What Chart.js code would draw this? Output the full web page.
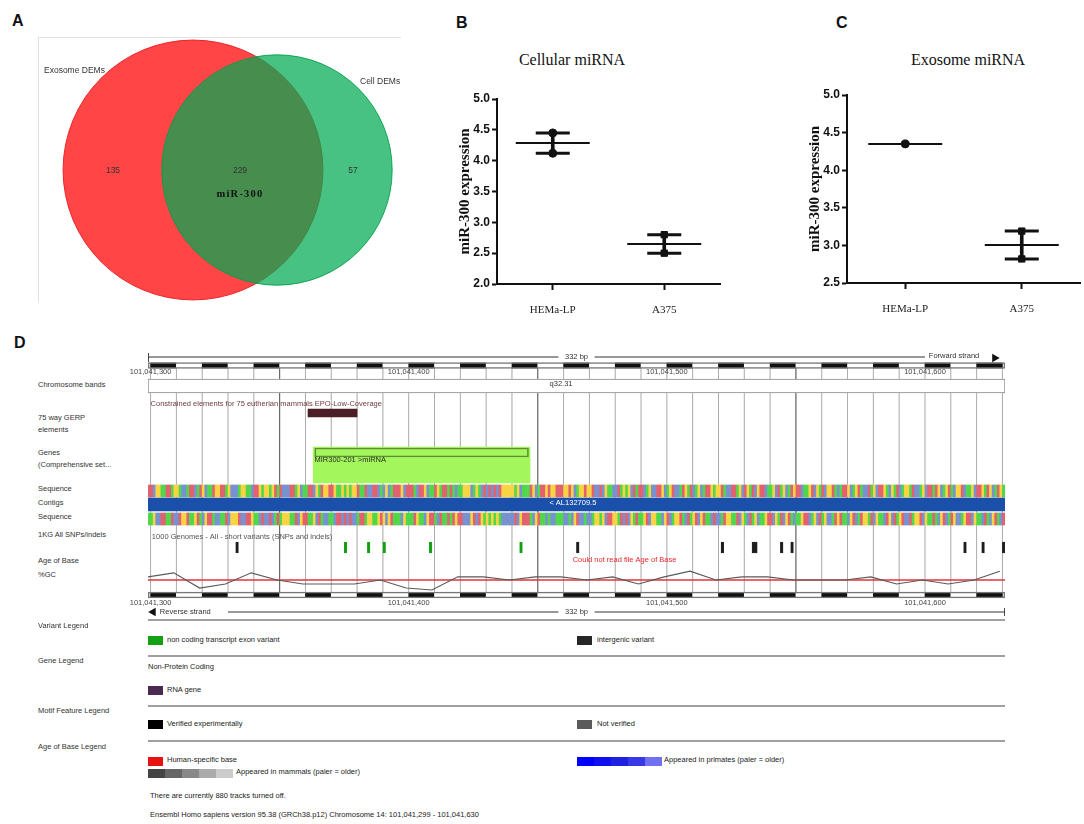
<!DOCTYPE html>
<html>
<head>
<meta charset="utf-8">
<script src="https://cdn.jsdelivr.net/npm/chart.js@4.4.1/dist/chart.umd.min.js"></script>
<style>
body { margin: 0; background: #fff; }
#wrap { position: relative; width: 1084px; height: 824px; overflow: hidden; font-family: "Liberation Sans", Arial, sans-serif; color: #222; }
#wrap canvas { position: absolute; }
.t { position: absolute; white-space: nowrap; }
.c { transform: translate(-50%, -50%); }
.m { transform: translateY(-50%); }
.plab { position: absolute; font-weight: bold; font-size: 16px; color: #111; }
.title { position: absolute; font-family: "Liberation Serif", serif; font-size: 16px; color: #111; transform: translate(-50%, -50%); white-space: nowrap; }
.trk { position: absolute; left: 38px; font-size: 7.5px; color: #333; transform: translateY(-50%); white-space: nowrap; }
.lg { position: absolute; font-size: 7.5px; color: #222; white-space: nowrap; }
.hl { position: absolute; left: 148px; width: 857px; height: 2px; background: #a0a0a0; }
.box { position: absolute; width: 15px; height: 9px; }
</style>
</head>
<body>
<div id="wrap">
  <div class="plab" style="left:12px;top:12px">A</div>
  <div class="plab" style="left:456px;top:14px">B</div>
  <div class="plab" style="left:836px;top:14px">C</div>
  <div class="plab" style="left:14px;top:334px">D</div>

  <!-- panel A -->
  <div style="position:absolute;left:38px;top:37px;width:362px;height:264px;border-left:1px solid #e2e2e2;border-top:1px solid #e2e2e2"></div>
  <canvas id="venn" width="365" height="268" style="left:38px;top:37px"></canvas>
  <div id="vennText"></div>

  <!-- panels B, C -->
  <div class="title" style="left:572px;top:60px">Cellular miRNA</div>
  <div class="title" style="left:968px;top:60px">Exosome miRNA</div>
  <canvas id="cellular" width="290" height="235" style="left:440px;top:85px"></canvas>
  <canvas id="exosome" width="294" height="238" style="left:790px;top:81px"></canvas>

  <!-- panel D -->
  <div class="trk" style="top:384px">Chromosome bands</div>
  <div class="trk" style="top:417px">75 way GERP</div>
  <div class="trk" style="top:429px">elements</div>
  <div class="trk" style="top:452px">Genes</div>
  <div class="trk" style="top:464px">(Comprehensive set...</div>
  <div class="trk" style="top:488px">Sequence</div>
  <div class="trk" style="top:502px">Contigs</div>
  <div class="trk" style="top:516px">Sequence</div>
  <div class="trk" style="top:534px">1KG All SNPs/indels</div>
  <div class="trk" style="top:560px">Age of Base</div>
  <div class="trk" style="top:574px">%GC</div>
  <canvas id="browser" width="940" height="272" style="left:100px;top:350px"></canvas>

  <!-- legends -->
  <div class="hl" style="top:619px"></div>
  <div class="trk" style="top:625px">Variant Legend</div>
  <div class="box" style="left:148px;top:636px;background:#14a014"></div>
  <div class="lg" style="left:167px;top:635px">non coding transcript exon variant</div>
  <div class="box" style="left:577px;top:636px;background:#262626"></div>
  <div class="lg" style="left:597px;top:635px">intergenic variant</div>
  <div class="hl" style="top:655px"></div>
  <div class="trk" style="top:660px">Gene Legend</div>
  <div class="lg" style="left:148px;top:662px">Non-Protein Coding</div>
  <div class="box" style="left:148px;top:686px;background:#4a2a50"></div>
  <div class="lg" style="left:167px;top:685px">RNA gene</div>
  <div class="hl" style="top:705px"></div>
  <div class="trk" style="top:710px">Motif Feature Legend</div>
  <div class="box" style="left:148px;top:720px;background:#000"></div>
  <div class="lg" style="left:167px;top:719px">Verified experimentally</div>
  <div class="box" style="left:577px;top:720px;background:#5a5a5a"></div>
  <div class="lg" style="left:597px;top:719px">Not verified</div>
  <div class="hl" style="top:740px"></div>
  <div class="trk" style="top:746px">Age of Base Legend</div>
  <div class="box" style="left:148px;top:757px;background:#e81212"></div>
  <div class="lg" style="left:167px;top:755px">Human-specific base</div>
  <div id="mammals" style="position:absolute;left:148px;top:769px;display:flex"></div>
  <div class="lg" style="left:236px;top:767px">Appeared in mammals (paler = older)</div>
  <div id="primates" style="position:absolute;left:577px;top:757px;display:flex"></div>
  <div class="lg" style="left:664px;top:755px">Appeared in primates (paler = older)</div>
  <div class="lg" style="left:150px;top:791px">There are currently 880 tracks turned off.</div>
  <div class="lg" style="left:150px;top:810px">Ensembl Homo sapiens version 95.38 (GRCh38.p12) Chromosome 14: 101,041,299 - 101,041,630</div>
</div>

<script>
// Panel A - Venn counts
const vennSets = ['Exosome DEMs', 'Cell DEMs'];
const vennOnly = [135, 57];
const vennShared = 229;
const vennSharedName = 'miR-300';

// Panels B and C - miR-300 expression
const cellLines = ['HEMa-LP', 'A375'];
const cellularHEMa = [4.45, 4.12];
const cellularA375 = [2.80, 2.50];
const exosomeHEMa = [4.35];
const exosomeA375 = [3.19, 2.82];

// Panel D - Ensembl region chr14
const regionStart = 101041299;
const regionEnd = 101041630;
const rulerLabels = [101041300, 101041400, 101041500, 101041600];
const bandName = 'q32.31';
const gerpElement = [101041361, 101041380];
const geneMIR300 = [101041363, 101041447];
const geneName = 'MIR300-201 >miRNA';
const contigName = '< AL132709.5';
const snpNonCoding = [101041375, 101041384, 101041390, 101041408, 101041443];
const snpIntergenic = [101041333, 101041465, 101041521, 101041533, 101041534, 101041544, 101041548, 101041615, 101041622, 101041630];
const gcValues = [58, 68, 30, 40, 68, 50, 40, 40, 40, 50, 30, 25, 58, 58, 50, 58, 58, 50, 58, 40, 58, 72, 50, 58, 58, 50, 50, 50, 58, 40, 50, 40, 50, 72];
const seqChunks = [
  'TTCGGAATTA', 'GGACCATTCA', 'TGCAATGGTT', 'AGCCCAGGAA', 'CTTGAGGAGT', 'ATCCCTTAGC',
  'AATTCGATGG', 'TTGAAGAGAG', 'GTAATCCTTC', 'ACGCATTTGC', 'TTTACTTGCA', 'ATGATTATAC',
  'AAGGGCAGAC', 'TCTCTCTGGG', 'GGAGCAAATG', 'CATTGTGGTT', 'TGGTGCAGGT', 'GGTCCTCGAA',
  'CCTAGAGCTA', 'TTCAGCCTTG', 'CAGTCCATGA', 'TCAGCATTGA', 'GGTACCTTAG', 'CTGATCGTTC',
  'AAGCTAGCAT', 'GTTCAAGTCG', 'ATCGGTACAT', 'TGCAGTACCT', 'AGCTTGACGA', 'TCAGGATCCA',
  'GCTTATGCAG', 'TACGGTCAAG', 'CTTGATGCAT', 'GA'
];

const baseColors = { A: '#52d64c', T: '#e2616f', G: '#f8d444', C: '#7892cf' };
const complement = { A: 'T', T: 'A', G: 'C', C: 'G' };

// ---------- Panel A ----------
const vennTotals = [vennOnly[0] + vennShared, vennOnly[1] + vennShared];
const vennScale = 6.81; // px per sqrt(count)
const vennCenters = [[155, 133], [239, 133]];

new Chart(document.getElementById('venn'), {
    type: 'bubble',
    data: {
        datasets: [
            {
                label: vennSets[1],
                data: [{ x: vennCenters[1][0], y: vennCenters[1][1], r: vennScale * Math.sqrt(vennTotals[1]) }],
                backgroundColor: 'rgba(0,170,82,0.72)',
                borderColor: 'rgba(0,160,75,0.9)',
                borderWidth: 1,
                order: 0
            },
            {
                label: vennSets[0],
                data: [{ x: vennCenters[0][0], y: vennCenters[0][1], r: vennScale * Math.sqrt(vennTotals[0]) }],
                backgroundColor: 'rgba(255,0,0,0.73)',
                borderColor: '#e8262c',
                borderWidth: 1,
                order: 1
            }
        ]
    },
    options: {
        responsive: false,
        animation: false,
        clip: false,
        layout: { padding: 0, autoPadding: false },
        plugins: { legend: { display: false }, tooltip: { enabled: false } },
        scales: {
            x: { display: false, min: 0, max: 365 },
            y: { display: false, min: 0, max: 268, reverse: true }
        }
    }
});

// Venn labels
let vennText = document.getElementById('vennText');
[
    [vennSets[0], 44, 70, 'm', ''],
    [vennSets[1], 360, 81, 'm', ''],
    [vennOnly[0], 113, 170, 'c', ''],
    [vennShared, 240, 170, 'c', ''],
    [vennOnly[1], 353, 170, 'c', ''],
    [vennSharedName, 240, 193, 'c', 'font-family:Liberation Serif,serif;font-weight:bold;font-size:10.5px;letter-spacing:1.2px;color:#111']
].forEach(([txt, x, y, cls, extra]) => {
    let d = document.createElement('div');
    d.className = 't ' + cls;
    d.style.cssText = `left:${x}px;top:${y}px;font-size:8.5px;color:#333;` + extra;
    d.textContent = txt;
    vennText.appendChild(d);
});

// ---------- Panels B, C ----------
const mean = arr => arr.reduce((a, b) => a + b, 0) / arr.length;

function dotPlot(id, hema, a375, yMin, chartRight) {
    const groups = [hema, a375];
    const black = '#111';
    new Chart(document.getElementById(id), {
        type: 'bar',
        data: {
            labels: cellLines,
            datasets: [
                {
                    type: 'scatter',
                    data: groups.map((g, i) => ({ x: cellLines[i], y: mean(g) })),
                    pointStyle: 'line', pointRadius: 37, pointBorderWidth: 2, pointBorderColor: black
                },
                {
                    type: 'scatter',
                    data: groups.filter(g => g.length > 1).flatMap(g => {
                        const i = groups.indexOf(g);
                        return [{ x: cellLines[i], y: Math.max(...g) }, { x: cellLines[i], y: Math.min(...g) }];
                    }),
                    pointStyle: 'line', pointRadius: 17, pointBorderWidth: 3, pointBorderColor: black
                },
                {
                    type: 'scatter',
                    data: hema.map(v => ({ x: cellLines[0], y: v })),
                    pointStyle: 'circle', pointRadius: 4, pointBackgroundColor: black, pointBorderColor: black
                },
                {
                    type: 'scatter',
                    data: a375.map(v => ({ x: cellLines[1], y: v })),
                    pointStyle: 'rect', pointRadius: 4.5, pointBackgroundColor: black, pointBorderColor: black
                },
                {
                    type: 'bar',
                    data: groups.map(g => [Math.min(...g), Math.max(...g)]),
                    backgroundColor: black,
                    barThickness: 3
                }
            ]
        },
        options: {
            responsive: false,
            animation: false,
            layout: { padding: { top: 14, right: chartRight }, autoPadding: false },
            plugins: { legend: { display: false }, tooltip: { enabled: false } },
            scales: {
                x: {
                    offset: true,
                    grid: { offset: false, drawOnChartArea: false, tickLength: 6, tickWidth: 2, tickColor: black },
                    border: { color: black, width: 2 },
                    ticks: { font: { family: 'Liberation Serif', size: 11 }, color: '#222', padding: 14 },
                    afterFit(s) { s.height = 36; }
                },
                y: {
                    min: yMin, max: 5,
                    grid: { drawOnChartArea: false, tickLength: 5, tickWidth: 2, tickColor: black },
                    border: { color: black, width: 2 },
                    ticks: {
                        stepSize: 0.5, padding: 2, color: black,
                        font: { family: 'Liberation Sans', size: 12, weight: 'bold' },
                        callback: v => v.toFixed(1)
                    },
                    title: {
                        display: true, text: 'miR-300 expression', color: black,
                        font: { family: 'Liberation Serif', size: 15, weight: 'bold' },
                        padding: { top: 16, bottom: 0 }
                    },
                    afterFit(s) { s.width = 57; }
                }
            }
        }
    });
}

dotPlot('cellular', cellularHEMa, cellularA375, 2.0, 10);
dotPlot('exosome', exosomeHEMa, exosomeA375, 2.5, 4);

// ---------- Panel D ----------
const canvasH = 272;
// vertical layout of the tracks, px from top of the canvas
const trackY = {
    topLine: 7, ruler: 15.5, rulerLabel: 22, band: 36, gerpText: 54, gerp: 63,
    gene: 115, geneInner: 102.5, geneText: 110, seqFwd: 141, contig: 154.5, seqRev: 169,
    snpText: 187, snp: 197.5, ageText: 210, gcTop: 210, gcBottom: 250,
    gridTop: 18, gridBottom: 242, rulerBottom: 245, rulerBottomLabel: 253, revLine: 262
};

const seqForward = seqChunks.join('').split('');
const seqReverse = seqForward.map(b => complement[b]);

const gcRange = 100 * canvasH / (trackY.gcBottom - trackY.gcTop);
const gcMin = -(canvasH - trackY.gcBottom) * gcRange / canvasH;

function hbar(rows, y, thickness, extra) {
    return Object.assign({
        type: 'bar', indexAxis: 'y', grouped: false,
        data: rows.map(r => ({ x: r, y: y })),
        barThickness: thickness, borderWidth: 0, borderSkipped: false
    }, extra);
}

function vline(list, y0, y1) {
    const out = [];
    list.forEach(bp => { out.push({ x: bp, y: y0 }, { x: bp, y: y1 }, { x: bp, y: null }); });
    return out;
}

function lineDs(data, color, width, extra) {
    return Object.assign({
        type: 'line', data: data, borderColor: color, borderWidth: width,
        pointRadius: 0, spanGaps: false, tension: 0, fill: false
    }, extra);
}

// grid every 10 bp, darker every 100 bp (mid)
const gridBp = [];
for (let p = 101041300; p <= regionEnd; p += 10) gridBp.push(p);
const gridDark = gridBp.filter(p => p % 100 === 50);
const gridLight = gridBp.filter(p => p % 100 !== 50);

// scale bar blocks
const rulerBlocks = [[regionStart, 101041300]];
for (let p = 101041300; p < regionEnd; p += 10) rulerBlocks.push([p, Math.min(p + 10, regionEnd + 1)]);
const rulerColors = rulerBlocks.map((b, i) => (i % 2 === 1 ? '#111' : '#fff'));

const gcPoints = gcValues.map((v, i) => ({ x: regionStart + i * 10, y: v }));
const fullSpan = [regionStart, regionEnd + 1];

const layers = [
    lineDs(vline(gridLight, trackY.gridTop, trackY.gridBottom), 'rgba(0,0,0,0.13)', 1),
    lineDs(vline(gridDark, trackY.gridTop, trackY.gridBottom), 'rgba(0,0,0,0.3)', 1),
    hbar(rulerBlocks, trackY.ruler, 5, { backgroundColor: rulerColors }),
    hbar([fullSpan], trackY.ruler, 6, { backgroundColor: 'rgba(0,0,0,0)', borderColor: '#777', borderWidth: 1 }),
    hbar(rulerBlocks, trackY.rulerBottom, 5, { backgroundColor: rulerColors }),
    hbar([fullSpan], trackY.rulerBottom, 6, { backgroundColor: 'rgba(0,0,0,0)', borderColor: '#777', borderWidth: 1 }),
    hbar([fullSpan], trackY.band, 14, { backgroundColor: '#fff', borderColor: '#8a8a8a', borderWidth: 1 }),
    hbar([gerpElement], trackY.gerp, 8, { backgroundColor: '#4b1d26' }),
    hbar([geneMIR300], trackY.gene, 36, { backgroundColor: '#a3f75c' }),
    hbar([[geneMIR300[0] + 0.6, geneMIR300[1] - 0.6]], trackY.geneInner, 9, { backgroundColor: 'rgba(0,0,0,0)', borderColor: '#5f8f2f', borderWidth: 1 }),
    hbar(seqForward.map((b, i) => [regionStart + i, regionStart + i + 1]), trackY.seqFwd, 12, { backgroundColor: seqForward.map(b => baseColors[b]) }),
    hbar([fullSpan], trackY.contig, 13, { backgroundColor: '#1a50aa' }),
    hbar(seqReverse.map((b, i) => [regionStart + i, regionStart + i + 1]), trackY.seqRev, 12, { backgroundColor: seqReverse.map(b => baseColors[b]) }),
    hbar(snpNonCoding.map(p => [p, p + 1]), trackY.snp, 11, { backgroundColor: '#12a012', borderColor: '#12a012', borderWidth: 0.5 }),
    hbar(snpIntergenic.map(p => [p, p + 1]), trackY.snp, 11, { backgroundColor: '#1c1c1c', borderColor: '#1c1c1c', borderWidth: 0.5 }),
    lineDs([{ x: regionStart, y: 50 }, { x: regionEnd + 1, y: 50 }], '#e2333d', 1.5, { yAxisID: 'gc' }),
    lineDs(gcPoints, '#5a5a5a', 1.2, { yAxisID: 'gc' }),
    // forward strand line with label gaps
    lineDs([{ x: regionStart, y: trackY.topLine }, { x: 101041458, y: trackY.topLine }, { x: 101041458, y: null },
            { x: 101041472, y: trackY.topLine }, { x: 101041600, y: trackY.topLine }, { x: 101041600, y: null },
            { x: regionStart, y: trackY.topLine - 4 }, { x: regionStart, y: trackY.topLine + 5 }], '#333', 1),
    // reverse strand line
    lineDs([{ x: 101041330, y: trackY.revLine }, { x: 101041458, y: trackY.revLine }, { x: 101041458, y: null },
            { x: 101041472, y: trackY.revLine }, { x: regionEnd + 1, y: trackY.revLine }, { x: regionEnd + 1, y: null },
            { x: regionEnd + 1, y: trackY.revLine - 4 }, { x: regionEnd + 1, y: trackY.revLine + 4 }], '#333', 1),
    {
        type: 'scatter',
        data: [{ x: 101041627, y: trackY.topLine + 1 }, { x: 101041301, y: trackY.revLine }],
        pointStyle: 'triangle', pointRadius: 5, pointRotation: [90, -90],
        pointBackgroundColor: '#111', pointBorderColor: '#111', pointBorderWidth: 0
    }
];
layers.forEach((ds, i) => { ds.order = layers.length - i; });

const fmt = n => n.toLocaleString('en-US');
const small = '7.5px "Liberation Sans", Arial, sans-serif';
const dTexts = [
    { text: '332 bp', bp: 101041465, y: trackY.topLine, align: 'center' },
    { text: 'Forward strand', bp: 101041601.5, y: trackY.topLine - 1, align: 'left' },
    { text: bandName, bp: 101041459, y: trackY.band - 2, align: 'center' },
    { text: 'Constrained elements for 75 eutherian mammals EPO-Low-Coverage', bp: 101041300, y: trackY.gerpText, align: 'left', color: '#6e3c3c' },
    { text: geneName, bp: geneMIR300[0] + 0.5, y: trackY.geneText, align: 'left', color: '#2a2a2a' },
    { text: contigName, bp: 101041454.5, y: trackY.contig - 2, align: 'left', color: '#fff' },
    { text: '1000 Genomes - All - short variants (SNPs and indels)', bp: 101041300.5, y: trackY.snpText, align: 'left', color: '#555' },
    { text: 'Could not read file Age of Base', bp: 101041463.5, y: trackY.ageText, align: 'left', color: '#e8262c' },
    { text: 'Reverse strand', bp: 101041303.6, y: trackY.revLine, align: 'left' },
    { text: '332 bp', bp: 101041465, y: trackY.revLine, align: 'center' }
];
rulerLabels.forEach(p => {
    dTexts.push({ text: fmt(p), bp: p, y: trackY.rulerLabel, align: 'center', color: '#444' });
    dTexts.push({ text: fmt(p), bp: p, y: trackY.rulerBottomLabel, align: 'center', color: '#444' });
});

const trackText = {
    id: 'trackText',
    afterDatasetsDraw(chart) {
        const { ctx, scales } = chart;
        ctx.save();
        ctx.font = small;
        ctx.textBaseline = 'middle';
        dTexts.forEach(t => {
            ctx.fillStyle = t.color || '#333';
            ctx.textAlign = t.align;
            ctx.fillText(t.text, scales.x.getPixelForValue(t.bp), scales.y.getPixelForValue(t.y));
        });
        ctx.restore();
    }
};

new Chart(document.getElementById('browser'), {
    type: 'bar',
    data: { datasets: layers },
    options: {
        responsive: false,
        animation: false,
        layout: { padding: { left: 48, right: 35, top: 0, bottom: 0 }, autoPadding: false },
        plugins: { legend: { display: false }, tooltip: { enabled: false } },
        scales: {
            x: { type: 'linear', display: false, min: regionStart, max: regionEnd + 1, offset: false },
            y: { type: 'linear', display: false, min: 0, max: canvasH, reverse: true, offset: false },
            gc: { type: 'linear', display: false, min: gcMin, max: gcMin + gcRange }
        }
    },
    plugins: [trackText]
});

// legend gradients
['#444', '#666', '#888', '#aaa', '#ccc'].forEach(c => {
    let s = document.createElement('div');
    s.style.cssText = `width:17px;height:9px;background:${c}`;
    document.getElementById('mammals').appendChild(s);
});
['#0000ff', '#1010ee', '#2020e0', '#3838e6', '#7070f0'].forEach(c => {
    let s = document.createElement('div');
    s.style.cssText = `width:17px;height:9px;background:${c}`;
    document.getElementById('primates').appendChild(s);
});
</script>
</body>
</html>
